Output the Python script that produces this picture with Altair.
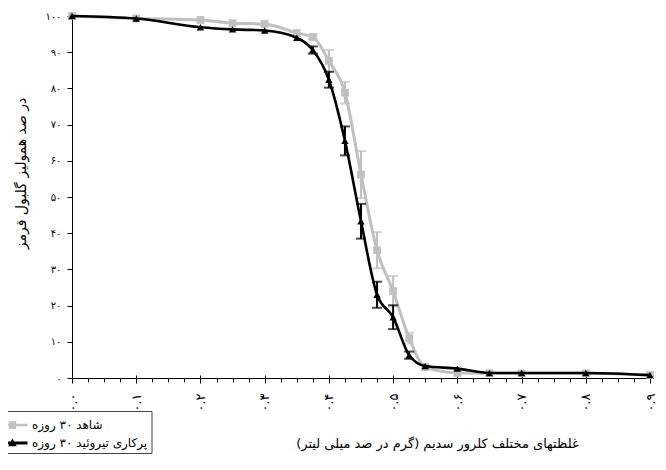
import json
import altair as alt
import pandas as pd

# ---- data ----
conc = [0, 0.1, 0.2, 0.25, 0.3, 0.35, 0.375, 0.4, 0.425, 0.45, 0.475, 0.5, 0.525, 0.55, 0.6, 0.65, 0.7, 0.8, 0.9]
control = [100, 99.3, 98.9, 98.0, 97.8, 95.3, 94.2, 87.6, 78.8, 56.2, 35.3, 24.0, 11.0, 3.0, 1.4, 1.3, 1.3, 1.3, 0.8]
control_err = [0, 0, 0, 0, 0, 0, 0.6, 3.0, 3.0, 6.5, 5.0, 4.2, 1.5, 0, 0, 0, 0, 0, 0]
hyper = [100, 99.3, 96.9, 96.3, 96.0, 94.0, 90.6, 82.4, 65.5, 43.3, 23.0, 16.8, 6.3, 3.3, 2.6, 1.4, 1.4, 1.4, 0.8]
hyper_err = [0, 0, 0, 0, 0, 0, 1.0, 2.2, 4.0, 4.8, 3.6, 3.3, 1.0, 0, 0, 0, 0, 0, 0]
series_names = ["شاهد ۳۰ روزه", "پرکاری تیروئید ۳۰ روزه"]
series_colors = ["#c0c0c0", "#000000"]

x_tick_values = [0, 0.1, 0.2, 0.3, 0.4, 0.5, 0.6, 0.7, 0.8, 0.9]
x_tick_labels = ["۰.۰", "۰.۱", "۰.۲", "۰.۳", "۰.۴", "۰.۵", "۰.۶", "۰.۷", "۰.۸", "۰.۹"]
x_minor_values = [round(i * 0.025, 3) for i in range(37)]
y_tick_values = [0, 10, 20, 30, 40, 50, 60, 70, 80, 90, 100]
y_tick_labels = ["۰", "۱۰", "۲۰", "۳۰", "۴۰", "۵۰", "۶۰", "۷۰", "۸۰", "۹۰", "۱۰۰"]

x_title = "غلظتهای مختلف کلرور سدیم (گرم در صد میلی لیتر)\u200f"
y_title = "در صد همولیز گلبول قرمز"

rows = []
for s, vals, errs in [(series_names[0], control, control_err), (series_names[1], hyper, hyper_err)]:
    for c, v, e in zip(conc, vals, errs):
        rows.append({"conc": c, "value": v, "err": e, "lo": v - e, "hi": v + e, "series": s})
df = pd.DataFrame(rows)

W, H = 578, 362
FONT = "DejaVu Sans"
xs = alt.Scale(domain=[0, 0.9], nice=False, zero=False)
ys = alt.Scale(domain=[0, 100], nice=False)

main_x_axis = alt.Axis(
    values=x_tick_values,
    labelExpr=json.dumps(x_tick_labels, ensure_ascii=False) + "[round(datum.value*10)]",
    labelAngle=270, labelFont=FONT, labelFontSize=13, labelColor="black",
    labelPadding=10, labelFlush=False, labelOverlap=False,
    tickSize=5, tickColor="black", domainColor="black", grid=False,
    title=x_title, titleFont=FONT, titleFontSize=13, titleFontWeight="normal",
    titleColor="black", titleX=365, titleY=59, titleAlign="center",
)
minor_x_axis = alt.Axis(
    orient="bottom", values=x_minor_values, labels=False, domain=False,
    tickSize=4, tickColor="black", grid=False, title="",
)
up_x_axis = alt.Axis(
    orient="top", offset=-H, values=x_tick_values, labels=False, domain=False,
    tickSize=3, tickColor="black", grid=False, title="",
)
y_axis = alt.Axis(
    values=y_tick_values,
    labelExpr=json.dumps(y_tick_labels, ensure_ascii=False) + "[round(datum.value/10)]",
    labelFont=FONT, labelFontSize=10, labelColor="black", labelPadding=6,
    tickSize=5, tickColor="black", domainColor="black", grid=False,
    title=y_title, titleFont=FONT, titleFontSize=14, titleFontWeight="normal",
    titleColor="black", titleX=-44, titleY=157,
)

base = alt.Chart(df)


def xenc(axis):
    return alt.X("conc:Q", scale=xs, axis=axis)


def yenc(field="value"):
    return alt.Y(field + ":Q", scale=ys, axis=y_axis)


def series_layers(name, color, shape, size, line_w, first=False):
    d = base.transform_filter(alt.datum.series == name)
    e = d.transform_filter(alt.datum.err > 0)
    line = d.mark_line(color=color, strokeWidth=line_w, interpolate="monotone").encode(
        x=xenc(main_x_axis if first else None), y=yenc()
    )
    rule = e.mark_rule(color=color, strokeWidth=2).encode(
        x=xenc(minor_x_axis if first else None), y=yenc("lo"), y2="hi:Q",
    )
    cap_lo = e.mark_tick(color=color, orient="horizontal", thickness=2, size=10).encode(
        x=xenc(None), y=yenc("lo")
    )
    cap_hi = e.mark_tick(color=color, orient="horizontal", thickness=2, size=10).encode(
        x=xenc(None), y=yenc("hi")
    )
    pts = d.mark_point(shape=shape, filled=True, size=size, color=color, opacity=1).encode(
        x=xenc(up_x_axis if first else None), y=yenc()
    )
    return [line, rule, cap_lo, cap_hi, pts]


sym_sq = "M-1.5,-0.12H1.5V0.12H-1.5Z M-0.37,-0.37H0.37V0.37H-0.37Z"
sym_tri = "M-1.5,-0.14H1.5V0.14H-1.5Z M0,-0.44L0.42,0.32H-0.42Z"

legend_def = alt.Legend(
    title=None, orient="none", legendX=-73.5, legendY=395, direction="vertical",
    padding=4, strokeColor="#444444", fillColor="white", rowPadding=2,
    labelFont=FONT, labelFontSize=12, labelColor="black", labelOffset=9.5,
    symbolSize=400, symbolOpacity=1, symbolStrokeWidth=0,
)
legend_layer = base.mark_point(filled=True, opacity=0).encode(
    x=xenc(None), y=yenc(),
    color=alt.Color("series:N", scale=alt.Scale(domain=series_names, range=series_colors), legend=legend_def),
    shape=alt.Shape("series:N", scale=alt.Scale(domain=series_names, range=[sym_sq, sym_tri]), legend=legend_def),
)

layers = (
    series_layers(series_names[0], series_colors[0], "square", 60, 3, first=True)
    + series_layers(series_names[1], series_colors[1], "triangle-up", 55, 2.6)
    + [legend_layer]
)

chart = (
    alt.layer(*layers)
    .resolve_axis(x="independent")
    .resolve_scale(x="shared")
    .properties(
        width=W, height=H, autosize="none",
        padding={"left": 64, "top": 8, "right": 8, "bottom": 76},
        background="white",
    )
    .configure_view(strokeWidth=0)
)

chart.save("out.html", embed_options={"renderer": "svg", "actions": False})
